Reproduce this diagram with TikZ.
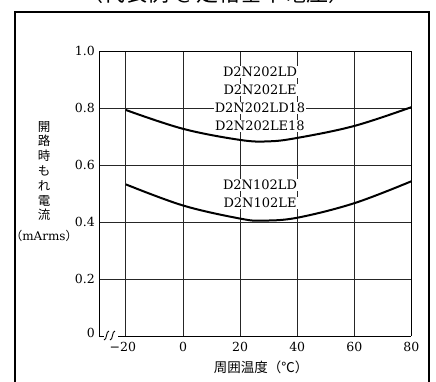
\documentclass[tikz,border=0pt]{standalone}
\usepackage{fontspec}
\setmainfont{DejaVu Serif}
\newfontfamily\jp{Noto Sans CJK JP}
\begin{document}
\begin{tikzpicture}[x=1pt,y=-1pt,
  grid/.style={line width=0.9pt,black!85},
  curve/.style={line width=2pt,black},
  tick/.style={font=\fontsize{12.5}{12.5}\selectfont,inner sep=0pt},
  lab/.style={font=\fontsize{13}{13}\selectfont,fill=white,inner sep=1pt},
  jplab/.style={font=\jp\fontsize{12.5}{14.8}\selectfont,inner sep=0pt,align=center}]
\useasboundingbox (0,0) rectangle (436,381);
\clip (0,0) rectangle (436,381);
\def\X#1{183+2.855*(#1)}
\def\Y#1{336-285*(#1)}
% title (cut off at top)
\node[font=\jp\fontsize{22}{22}\selectfont,anchor=base,inner sep=0pt] (title) at (216,1.5) {（代表例 ＠定格基準電圧）};
% outer frame
\draw[line width=1.4pt] (15,395) -- (15,12) -- (429,12) -- (429,395);
% coordinates
\coordinate (tl) at (99,51);
\coordinate (tr) at (411,51);
\coordinate (br) at (411,336);
\coordinate (bl) at (99,336);
% grid
\foreach \v in {0.2,0.4,0.6,0.8}{\draw[grid] (99,{\Y{\v}}) -- (411,{\Y{\v}});}
\foreach \t in {-20,0,20,40,60}{\draw[grid] ({\X{\t}},51) -- ({\X{\t}},336);}
\draw[line width=1pt] (bl) -- (tl) -- (tr) -- (br);
\draw[line width=1pt] (bl) -- (104,336);
\draw[line width=1pt] (118,336) -- (br);
% break marks
\draw[line width=0.9pt] (104,340) .. controls (107,340) and (106,331) .. (109,331);
\draw[line width=0.9pt] (110,340) .. controls (113,340) and (112,331) .. (115,331);
% curves
\draw[curve] plot[smooth,tension=0.6] coordinates {
  ({\X{-20}},{\Y{0.793}}) ({\X{0}},{\Y{0.727}}) ({\X{20}},{\Y{0.688}}) ({\X{30}},{\Y{0.683}})
  ({\X{40}},{\Y{0.695}}) ({\X{60}},{\Y{0.737}}) ({\X{80}},{\Y{0.803}})};
\draw[curve] plot[smooth,tension=0.6] coordinates {
  ({\X{-20}},{\Y{0.532}}) ({\X{0}},{\Y{0.458}}) ({\X{20}},{\Y{0.412}}) ({\X{28}},{\Y{0.405}})
  ({\X{40}},{\Y{0.415}}) ({\X{60}},{\Y{0.466}}) ({\X{80}},{\Y{0.543}})};
% series labels
\node[lab] (a1) at (260,72) {D2N202LD};
\node[lab] (a2) at (260,90) {D2N202LE};
\node[lab] (a3) at (260,108) {D2N202LD18};
\node[lab] (a4) at (260,126) {D2N202LE18};
\node[lab] (b1) at (260,185) {D2N102LD};
\node[lab] (b2) at (260,203) {D2N102LE};
% y ticks
\node[tick,anchor=east] (y0) at (95,333) {0};
\node[tick,anchor=east] (y2) at (95,{\Y{0.2}}) {0.2};
\node[tick,anchor=east] (y4) at (95,{\Y{0.4}}) {0.4};
\node[tick,anchor=east] (y6) at (95,{\Y{0.6}}) {0.6};
\node[tick,anchor=east] (y8) at (95,{\Y{0.8}}) {0.8};
\node[tick,anchor=east] (y10) at (95,51) {1.0};
% x ticks
\node[tick] (xm20) at ({\X{-20}-3},347) {−20};
\node[tick] (x0) at ({\X{0}},347) {0};
\node[tick] (x20) at ({\X{20}},347) {20};
\node[tick] (x40) at ({\X{40}},347) {40};
\node[tick] (x60) at ({\X{60}},347) {60};
\node[tick] (x80) at ({\X{80}},347) {80};
% axis titles
\node[jplab] (ylab) at (44,171) {開\\路\\時\\も\\れ\\電\\流};
\node[tick,font=\fontsize{12}{12}\selectfont] (yunit) at (44,236) {{\jp（}mArms{\jp）}};
\node[jplab,font=\jp\fontsize{13.5}{13.5}\selectfont] (xlab) at (261,367) {周囲温度（℃）};
\end{tikzpicture}
\end{document}
